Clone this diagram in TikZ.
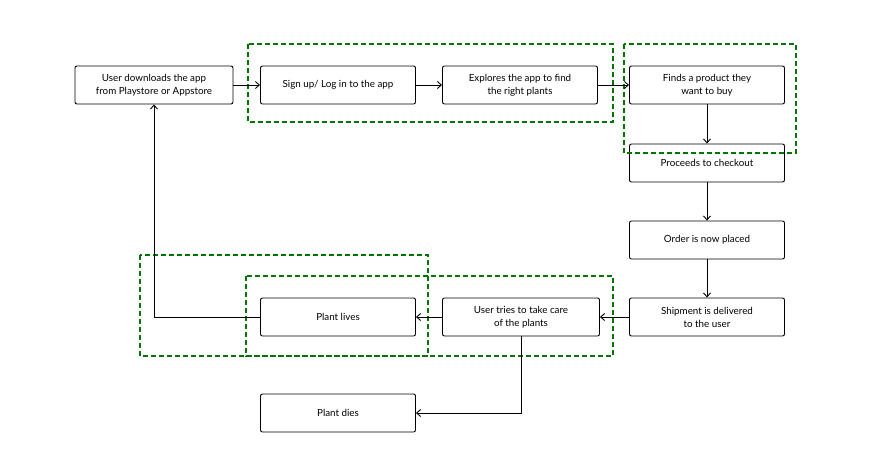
\documentclass[tikz,border=0pt]{standalone}
\usepackage{fontspec}
\setmainfont{Lato}
\usetikzlibrary{arrows.meta}
\tikzset{
  stage/.style={draw, line width=0.9pt, rounded corners=2pt, minimum width=155pt, minimum height=38pt,
    align=center, font=\fontsize{9.8}{13}\selectfont, inner sep=2pt},
  flow/.style={-{Straight Barb[length=4pt,width=7pt]}, line width=0.9pt},
  group/.style={draw=green!45!black, dash pattern=on 5pt off 3pt, line width=1.3pt}
}
\begin{document}
\begin{tikzpicture}[x=1pt,y=-1pt]
    \useasboundingbox (0,0) rectangle (872,476);

    \node[stage,minimum width=158pt] (download) at (154,85) {User downloads the app\\from Playstore or Appstore};
    \node[stage] (signup) at (338,85) {Sign up/ Log in to the app};
    \node[stage] (explore) at (520,85) {Explores the app to find\\the right plants};
    \node[stage] (finds) at (707,85) {Finds a product they\\want to buy};
    \node[stage] (checkout) at (707,163) {Proceeds to checkout};
    \node[stage] (order) at (707,240) {Order is now placed};
    \node[stage] (shipment) at (707,317) {Shipment is delivered\\to the user};
    \node[stage,minimum width=157pt] (care) at (521,317) {User tries to take care\\of the plants};
    \node[stage] (lives) at (338,317) {Plant lives};
    \node[stage] (dies) at (338,413) {Plant dies};

    \draw[group] (248,44) rectangle (613,122);
    \draw[group] (624,44) rectangle (796,153);
    \draw[group] (140,255) rectangle (428,356);
    \draw[group] (246,276) rectangle (613,356);

    \draw[flow] (download) -- (signup);
    \draw[flow] (signup) -- (explore);
    \draw[flow] (explore) -- (finds);
    \draw[flow] (finds) -- (checkout);
    \draw[flow] (checkout) -- (order);
    \draw[flow] (order) -- (shipment);
    \draw[flow] (shipment) -- (care);
    \draw[flow] (care) -- (lives);
    \draw[flow] (lives.west) -| (download.south);
    \draw[flow] (care.south) |- (dies.east);
\end{tikzpicture}
\end{document}
